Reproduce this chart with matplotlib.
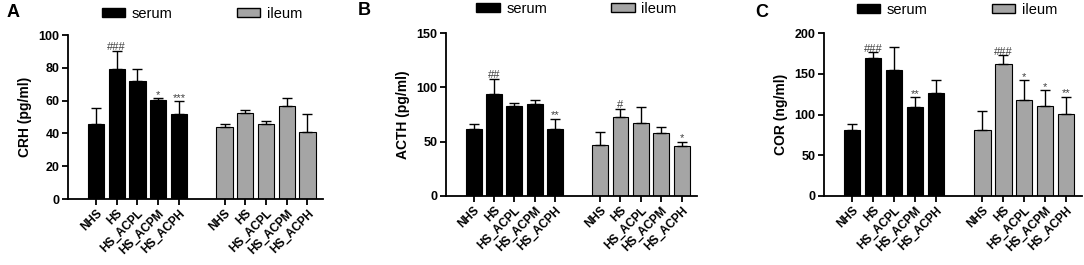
import numpy as np
import matplotlib
matplotlib.use("Agg")
from matplotlib import pyplot as plt
import matplotlib.patches as mpatches

plt.rcParams['font.family'] = ['Liberation Sans', 'DejaVu Sans']

groups = ['NHS', 'HS', 'HS_ACPL', 'HS_ACPM', 'HS_ACPH']

# panel A - CRH
crh_serum = [45.5, 79.5, 72.0, 60.5, 52.0]
crh_serum_err = [10.0, 11.0, 7.5, 1.0, 7.5]
crh_ileum = [44.0, 52.5, 45.5, 57.0, 41.0]
crh_ileum_err = [1.8, 2.0, 1.8, 4.5, 11.0]
crh_serum_sig = ['', '###', '', '*', '***']
crh_ileum_sig = ['', '', '', '', '']

# panel B - ACTH
acth_serum = [61.5, 93.8, 83.0, 84.5, 61.5]
acth_serum_err = [5.0, 14.0, 2.8, 3.4, 9.8]
acth_ileum = [47.0, 72.5, 67.0, 58.4, 46.1]
acth_ileum_err = [12.0, 8.0, 14.5, 5.2, 4.0]
acth_serum_sig = ['', '##', '', '', '**']
acth_ileum_sig = ['', '#', '', '', '*']

# panel C - COR
cor_serum = [81.0, 168.9, 154.5, 109.8, 126.2]
cor_serum_err = [7.5, 7.7, 27.9, 11.1, 15.6]
cor_ileum = [81.0, 161.5, 118.0, 111.0, 100.8]
cor_ileum_err = [23.5, 11.5, 23.8, 18.5, 21.2]
cor_serum_sig = ['', '###', '', '**', '']
cor_ileum_sig = ['', '###', '*', '*', '**']

panels = [
    ('A', 'CRH (pg/ml)', 100, [0, 20, 40, 60, 80, 100],
     crh_serum, crh_serum_err, crh_ileum, crh_ileum_err, crh_serum_sig, crh_ileum_sig),
    ('B', 'ACTH (pg/ml)', 150, [0, 50, 100, 150],
     acth_serum, acth_serum_err, acth_ileum, acth_ileum_err, acth_serum_sig, acth_ileum_sig),
    ('C', 'COR (ng/ml)', 200, [0, 50, 100, 150, 200],
     cor_serum, cor_serum_err, cor_ileum, cor_ileum_err, cor_serum_sig, cor_ileum_sig),
]

# axes boxes in pixels: left, right, top, bottom
boxes = [(68, 323, 35, 199), (446, 697, 33, 196), (824, 1082, 33, 196)]
legend_pos = [(0.525, 1.13), (0.52, 1.147), (0.516, 1.144)]
label_pos = [(7, 4), (358, 2), (755, 4)]

W, H = 1084, 265
fig = plt.figure(figsize=(W / 100, H / 100), dpi=100)

gray = '#a5a5a5'
x_serum = np.arange(5)
x_ileum = np.arange(5) + 6.2

for i, p in enumerate(panels):
    letter, ylab, ymax, yticks, s, se, il, ie, ssig, isig = p
    l, r, t, b = boxes[i]
    ax = fig.add_axes([l / W, (H - b) / H, (r - l) / W, (b - t) / H])

    ax.bar(x_serum, s, width=0.78, color='black', edgecolor='black', linewidth=0.8,
           yerr=[np.zeros(5), se], capsize=3.5, error_kw=dict(elinewidth=1.0, capthick=1.0, ecolor='black'))
    ax.bar(x_ileum, il, width=0.78, color=gray, edgecolor='black', linewidth=0.8,
           yerr=[np.zeros(5), ie], capsize=3.5, error_kw=dict(elinewidth=1.0, capthick=1.0, ecolor='black'))

    for xs, vals, errs, sig in [(x_serum, s, se, ssig), (x_ileum, il, ie, isig)]:
        for xx, v, e, sg in zip(xs, vals, errs, sig):
            if sg:
                ax.text(xx, v + e - ymax * 0.01, sg, ha='center', va='bottom',
                        fontsize=8, color='#404040')

    ax.set_xlim(-1.35, 10.95)
    ax.set_ylim(0, ymax)
    ax.set_yticks(yticks)
    ax.set_xticks(list(x_serum) + list(x_ileum))
    ax.set_xticklabels(groups + groups, rotation=45, ha='right', rotation_mode='anchor',
                       fontsize=8.5, fontweight='bold')
    for lab in ax.get_yticklabels():
        lab.set_fontweight('bold')
        lab.set_fontsize(9)
    ax.set_ylabel(ylab, fontsize=10, fontweight='bold', labelpad=5)
    ax.spines['top'].set_visible(False)
    ax.spines['right'].set_visible(False)
    ax.spines['left'].set_linewidth(1.3)
    ax.spines['bottom'].set_linewidth(1.3)
    ax.tick_params(axis='both', width=1.3, length=4, direction='out', pad=2)

    hs = [mpatches.Patch(facecolor='black', edgecolor='black', label='serum'),
          mpatches.Patch(facecolor=gray, edgecolor='black', label='ileum')]
    ax.legend(handles=hs, loc='center', bbox_to_anchor=legend_pos[i], ncol=2, frameon=False,
              fontsize=10.5, handlelength=1.6, handleheight=0.55, handletextpad=0.45,
              columnspacing=4.4, borderaxespad=0)

    lx, ly = label_pos[i]
    fig.text(lx / W, 1 - ly / H, letter, fontsize=13, fontweight='bold', ha='left', va='top')

fig.savefig('out.png', dpi=100)
